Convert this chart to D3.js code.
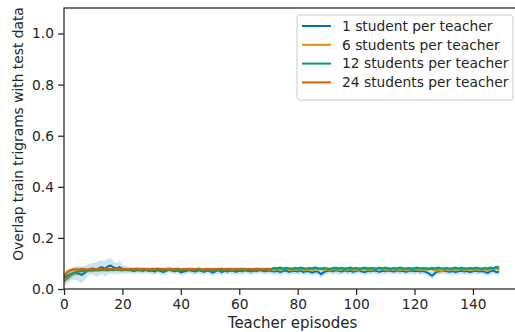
<!DOCTYPE html>
<html>
<head>
<meta charset="utf-8">
<script src="https://cdn.jsdelivr.net/npm/d3@7"></script>
<style>
  body { margin: 0; background: #fff; }
  svg { display: block; font-family: "DejaVu Sans", sans-serif; }
</style>
</head>
<body>
<div id="chart"></div>
<script>
// dados
const seriesNames = ["1 student per teacher", "6 students per teacher", "12 students per teacher", "24 students per teacher"];
const seriesColors = ["#0173b2", "#de8f05", "#029e73", "#d55e00"];

const oneStudent = [
  .030, .040, .050, .058, .062, .060, .055, .062, .072, .078,
  .080, .076, .082, .085, .080, .088, .092, .084, .080, .086,
  .078, .074, .076, .072, .070, .074, .073, .071, .075, .070,
  .072, .068, .074, .070, .066, .071, .078, .072, .069, .073,
  .065, .068, .071, .074, .070, .068, .073, .070, .067, .072,
  .069, .064, .070, .073, .066, .071, .068, .072, .070, .067,
  .071, .069, .073, .070, .068, .072, .070, .074, .071, .069,
  .072, .070, .068, .071, .066, .070, .072, .067, .069, .071,
  .068, .073, .066, .070, .068, .064, .069, .067, .058, .066,
  .070, .072, .069, .073, .070, .068, .072, .069, .071, .067,
  .070, .073, .068, .066, .071, .069, .072, .070, .067, .071,
  .069, .072, .070, .068, .073, .069, .071, .067, .070, .072,
  .069, .071, .068, .070, .066, .060, .052, .063, .068, .070,
  .072, .069, .067, .070, .066, .069, .071, .068, .070, .066,
  .069, .071, .068, .070, .067, .063, .069, .072, .066, .068
];
const sixStudents = [
  .035, .045, .052, .058, .064, .068, .070, .072, .074, .073,
  .075, .074, .076, .075, .077, .076, .078, .075, .077, .076,
  .075, .077, .074, .076, .078, .075, .077, .076, .074, .077,
  .076, .078, .075, .077, .074, .076, .078, .075, .077, .076,
  .074, .077, .075, .078, .076, .074, .077, .075, .076, .078,
  .075, .077, .074, .076, .078, .075, .077, .076, .074, .077,
  .076, .078, .075, .077, .074, .076, .078, .075, .077, .076,
  .075, .077, .076, .078, .075, .077, .079, .076, .074, .077,
  .075, .078, .076, .074, .077, .075, .078, .076, .079, .075,
  .077, .074, .076, .078, .075, .080, .077, .075, .078, .076,
  .074, .077, .075, .078, .076, .074, .077, .079, .082, .078,
  .076, .075, .077, .079, .076, .074, .078, .076, .075, .077,
  .079, .076, .074, .077, .075, .078, .076, .073, .077, .070,
  .075, .077, .076, .078, .074, .076, .079, .075, .077, .076,
  .074, .077, .075, .078, .076, .074, .077, .079, .081, .076
];
const twelveStudents = [
  .045, .050, .056, .062, .066, .068, .070, .071, .072, .073,
  .072, .074, .073, .075, .074, .073, .075, .074, .076, .074,
  .073, .075, .074, .076, .073, .075, .074, .072, .075, .074,
  .073, .075, .074, .076, .073, .074, .075, .073, .076, .074,
  .072, .075, .073, .074, .076, .073, .075, .074, .072, .075,
  .074, .073, .076, .074, .072, .075, .073, .074, .076, .073,
  .074, .072, .075, .073, .076, .074, .073, .075, .074, .076,
  .075, .078, .082, .081, .083, .080, .082, .081, .079, .082,
  .080, .083, .081, .079, .082, .080, .084, .081, .079, .082,
  .080, .078, .081, .083, .080, .082, .079, .081, .083, .080,
  .082, .079, .081, .083, .080, .082, .081, .079, .082, .080,
  .083, .081, .079, .082, .080, .083, .081, .080, .082, .079,
  .081, .083, .080, .082, .081, .079, .082, .080, .083, .081,
  .080, .082, .079, .081, .083, .080, .082, .081, .079, .082,
  .080, .083, .081, .079, .082, .080, .083, .081, .086, .084
];
const twentyFourStudents = [
  .050, .065, .073, .076, .077, .076, .078, .077, .076, .078,
  .077, .076, .078, .077, .076, .078, .077, .079, .077, .076,
  .078, .077, .076, .078, .077, .079, .076, .078, .077, .076,
  .078, .077, .079, .076, .078, .077, .076, .078, .077, .079,
  .076, .078, .077, .076, .078, .077, .079, .077, .076, .078,
  .077, .076, .078, .077, .079, .076, .078, .077, .076, .078,
  .077, .079, .076, .078, .077, .076, .078, .077, .076, .078,
  .077, .076
];

// meia largura da faixa de confiança
const oneStudentSpread = [
  .018, .020, .022, .024, .027, .030, .032, .028, .024, .022,
  .024, .027, .030, .026, .032, .028, .030, .024, .022, .026,
  .018, .015, .013, .012, .013, .011, .012, .013, .011, .012,
  .013, .012, .011, .013, .012, .014, .013, .012, .011, .013,
  .012, .013, .011, .012, .013, .012, .011, .013, .012, .011,
  .013, .012, .011, .013, .012, .013, .011, .012, .013, .012,
  .011, .013, .012, .011, .013, .012, .013, .011, .012, .013,
  .012, .011, .013, .012, .013, .011, .012, .013, .012, .011,
  .013, .012, .011, .013, .012, .013, .011, .012, .014, .013,
  .012, .011, .013, .012, .013, .011, .012, .013, .012, .011,
  .013, .012, .011, .013, .012, .013, .011, .012, .013, .012,
  .011, .013, .012, .011, .013, .012, .013, .011, .012, .013,
  .012, .011, .013, .012, .013, .013, .014, .013, .012, .011,
  .013, .012, .011, .013, .012, .013, .011, .012, .013, .012,
  .011, .013, .012, .011, .013, .012, .013, .011, .012, .013
];
const sixStudentsSpread = [
  .018, .017, .016, .014, .012, .011, .010, .009, .008, .008,
  .008, .007, .008, .007, .008, .007, .008, .007, .008, .007,
  .008, .007, .008, .007, .008, .009, .008, .007, .008, .007,
  .008, .007, .008, .007, .008, .007, .008, .007, .008, .007,
  .008, .007, .008, .007, .008, .007, .008, .007, .008, .007,
  .008, .007, .008, .007, .008, .007, .008, .007, .008, .007,
  .008, .007, .008, .007, .008, .007, .008, .007, .008, .007,
  .008, .007, .008, .007, .008, .009, .008, .007, .008, .007,
  .008, .007, .008, .007, .008, .007, .008, .007, .008, .007,
  .008, .007, .008, .007, .008, .009, .010, .008, .007, .008,
  .008, .007, .008, .007, .008, .007, .008, .007, .010, .009,
  .008, .007, .008, .007, .008, .007, .008, .007, .008, .007,
  .008, .007, .008, .007, .008, .007, .008, .009, .010, .012,
  .008, .007, .008, .007, .008, .007, .008, .007, .008, .007,
  .008, .007, .008, .007, .008, .007, .008, .007, .009, .008
];
const twelveStudentsSpread = [
  .014, .013, .012, .011, .010, .009, .008, .008, .007, .007,
  .007, .006, .007, .006, .007, .006, .007, .006, .007, .006,
  .007, .006, .007, .006, .007, .006, .007, .006, .007, .006,
  .007, .006, .007, .006, .007, .006, .007, .006, .007, .006,
  .007, .006, .007, .006, .007, .006, .007, .006, .007, .006,
  .007, .006, .007, .006, .007, .006, .007, .006, .007, .006,
  .007, .006, .007, .006, .007, .006, .007, .006, .007, .006,
  .007, .006, .007, .006, .007, .006, .007, .006, .007, .006,
  .007, .006, .007, .006, .007, .006, .007, .006, .007, .006,
  .007, .006, .007, .006, .007, .006, .007, .006, .007, .006,
  .007, .006, .007, .006, .007, .006, .007, .006, .007, .006,
  .007, .006, .007, .006, .007, .006, .007, .006, .007, .006,
  .007, .006, .007, .006, .007, .006, .007, .006, .007, .006,
  .007, .006, .007, .006, .007, .006, .007, .006, .007, .006,
  .007, .006, .007, .006, .007, .006, .007, .006, .008, .007
];
const twentyFourStudentsSpread = [
  .014, .012, .009, .007, .006, .006, .007, .006, .006, .007,
  .006, .006, .007, .006, .006, .007, .006, .006, .007, .006,
  .006, .007, .006, .006, .007, .006, .006, .007, .006, .006,
  .007, .006, .006, .007, .006, .006, .007, .006, .006, .007,
  .006, .006, .007, .006, .006, .007, .006, .006, .007, .006,
  .006, .007, .006, .006, .007, .006, .006, .007, .006, .006,
  .007, .006, .006, .007, .006, .006, .007, .006, .006, .007,
  .006, .006
];

const xTicks = [0, 20, 40, 60, 80, 100, 120, 140];
const yTicks = [0.0, 0.2, 0.4, 0.6, 0.8, 1.0];

const allSeries = [
  { name: seriesNames[0], color: seriesColors[0], values: oneStudent, spread: oneStudentSpread },
  { name: seriesNames[1], color: seriesColors[1], values: sixStudents, spread: sixStudentsSpread },
  { name: seriesNames[2], color: seriesColors[2], values: twelveStudents, spread: twelveStudentsSpread },
  { name: seriesNames[3], color: seriesColors[3], values: twentyFourStudents, spread: twentyFourStudentsSpread },
];

// Layout
const width = 515;
const height = 332;
const margin = { top: 8, right: -6, bottom: 43, left: 64 };
const innerW = width - margin.left - margin.right;
const innerH = height - margin.top - margin.bottom;
const textColor = "#262626";

const svg = d3.select("#chart").append("svg")
  .attr("width", width)
  .attr("height", height);

const x = d3.scaleLinear().domain([0, 156.45]).range([margin.left, margin.left + innerW]);
const y = d3.scaleLinear().domain([0, 1.1]).range([margin.top + innerH, margin.top]);

// Faixas e linhas
const plot = svg.append("g");
allSeries.forEach((s) => {
  const pts = s.values.map((v, i) => ({ i, v, lo: v - s.spread[i], hi: v + s.spread[i] }));
  plot.append("path")
    .datum(pts)
    .attr("fill", s.color)
    .attr("fill-opacity", 0.2)
    .attr("d", d3.area().x((d) => x(d.i)).y0((d) => y(d.lo)).y1((d) => y(d.hi)));
  plot.append("path")
    .datum(pts)
    .attr("fill", "none")
    .attr("stroke", s.color)
    .attr("stroke-width", 2)
    .attr("stroke-linejoin", "round")
    .attr("d", d3.line().x((d) => x(d.i)).y((d) => y(d.v)));
});

// Eixos
const xAxis = svg.append("g")
  .attr("transform", `translate(0,${margin.top + innerH})`)
  .call(d3.axisBottom(x).tickValues(xTicks).tickSize(6).tickPadding(4).tickFormat(d3.format("d")));
const yAxis = svg.append("g")
  .attr("transform", `translate(${margin.left},0)`)
  .call(d3.axisLeft(y).tickValues(yTicks).tickSize(6).tickPadding(4).tickFormat(d3.format(".1f")));

[xAxis, yAxis].forEach((g) => {
  g.select(".domain").remove();
  g.selectAll("line").attr("stroke", textColor).attr("stroke-width", 1.25);
  g.selectAll("text").attr("fill", textColor).attr("font-size", "13.8px").attr("font-family", "DejaVu Sans");
});

// Moldura
svg.append("rect")
  .attr("x", margin.left)
  .attr("y", margin.top)
  .attr("width", innerW)
  .attr("height", innerH)
  .attr("fill", "none")
  .attr("stroke", textColor)
  .attr("stroke-width", 1.25);

// Rótulos dos eixos
svg.append("text")
  .attr("x", margin.left + innerW / 2)
  .attr("y", 328)
  .attr("text-anchor", "middle")
  .attr("fill", textColor)
  .attr("font-size", "15px")
  .text("Teacher episodes");

svg.append("text")
  .attr("transform", `translate(23,134) rotate(-90)`)
  .attr("text-anchor", "middle")
  .attr("fill", textColor)
  .attr("font-size", "13.8px")
  .text("Overlap train trigrams with test data");

// Legenda
const legend = svg.append("g").attr("transform", "translate(297,15)");
legend.append("rect")
  .attr("width", 216)
  .attr("height", 85)
  .attr("rx", 3)
  .attr("fill", "#fff")
  .attr("fill-opacity", 0.8)
  .attr("stroke", "#cccccc");

allSeries.forEach((s, i) => {
  const yy = 11 + i * 18.8;
  legend.append("line")
    .attr("x1", 5).attr("x2", 34)
    .attr("y1", yy).attr("y2", yy)
    .attr("stroke", s.color)
    .attr("stroke-width", 2);
  legend.append("text")
    .attr("x", 45)
    .attr("y", yy)
    .attr("dy", "0.35em")
    .attr("fill", textColor)
    .attr("font-size", "13.8px")
    .text(s.name);
});
</script>
</body>
</html>
